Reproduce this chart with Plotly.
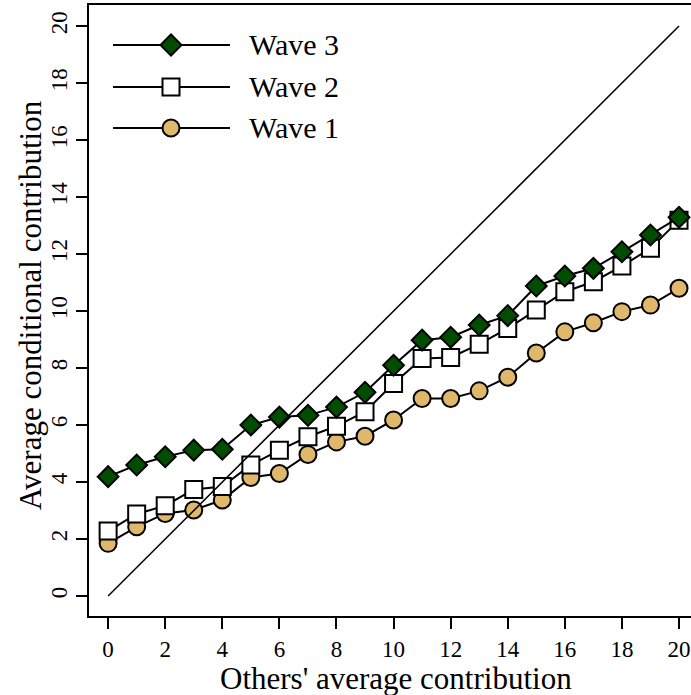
import plotly.graph_objects as go

others = list(range(0, 21))
wave1 = [1.85, 2.43, 2.90, 3.02, 3.37, 4.16, 4.30, 4.97, 5.41, 5.61, 6.18,
         6.93, 6.93, 7.20, 7.68, 8.53, 9.27, 9.59, 9.98, 10.21, 10.80]
wave2 = [2.28, 2.88, 3.17, 3.74, 3.84, 4.60, 5.12, 5.59, 5.96, 6.47, 7.46,
         8.34, 8.37, 8.84, 9.39, 10.04, 10.68, 11.03, 11.58, 12.20, 13.19]
wave3 = [4.19, 4.60, 4.89, 5.12, 5.15, 6.00, 6.28, 6.34, 6.63, 7.15, 8.10,
         8.98, 9.08, 9.51, 9.84, 10.88, 11.23, 11.50, 12.08, 12.67, 13.29]
diag = [0, 20]
tick_vals = list(range(0, 21, 2))

GREEN = "#004d00"
TAN = "#dfb86b"
FONT = "Liberation Serif, Times New Roman, serif"

W, H = 691, 695
L, R, T, B = 89, 0, 5, 79
PW, PH = W - L - R, H - T - B

fig = go.Figure()
fig.add_trace(go.Scatter(x=others, y=wave1, mode="lines+markers",
                         line=dict(color="black", width=2),
                         marker=dict(symbol="circle", size=17, color=TAN,
                                     line=dict(color="black", width=2)),
                         name="Wave 1", showlegend=False))
fig.add_trace(go.Scatter(x=others, y=wave2, mode="lines+markers",
                         line=dict(color="black", width=2),
                         marker=dict(symbol="square", size=17, color="white",
                                     line=dict(color="black", width=2)),
                         name="Wave 2", showlegend=False))
fig.add_trace(go.Scatter(x=others, y=wave3, mode="lines+markers",
                         line=dict(color="black", width=2),
                         marker=dict(symbol="diamond", size=16, color=GREEN,
                                     line=dict(color="black", width=2)),
                         name="Wave 3", showlegend=False))
fig.add_trace(go.Scatter(x=diag, y=diag, mode="lines",
                         line=dict(color="black", width=1.5),
                         showlegend=False, hoverinfo="skip"))

def px_x(p):
    return (p - L) / PW

def px_y(p):
    return (H - B - p) / PH

shapes = []
annotations = []
legend_items = [("Wave 3", 45, "diamond", GREEN),
                ("Wave 2", 87, "square", "white"),
                ("Wave 1", 128, "circle", TAN)]
for label, ypx, sym, col in legend_items:
    shapes.append(dict(type="line", xref="paper", yref="paper",
                       x0=px_x(113), x1=px_x(230), y0=px_y(ypx), y1=px_y(ypx),
                       line=dict(color="black", width=2)))
    common = dict(xref="paper", yref="paper", xsizemode="pixel", ysizemode="pixel",
                  xanchor=px_x(171), yanchor=px_y(ypx),
                  fillcolor=col, line=dict(color="black", width=2))
    if sym == "circle":
        shapes.append(dict(type="circle", x0=-8.5, x1=8.5, y0=-8.5, y1=8.5, **common))
    elif sym == "square":
        shapes.append(dict(type="rect", x0=-8.5, x1=8.5, y0=-8.5, y1=8.5, **common))
    else:
        shapes.append(dict(type="path", path="M -10.5 0 L 0 -10.5 L 10.5 0 L 0 10.5 Z", **common))
    annotations.append(dict(text=label, xref="paper", yref="paper",
                            x=px_x(247), y=px_y(ypx), xanchor="left", yanchor="middle",
                            showarrow=False, font=dict(family=FONT, size=30, color="black")))

annotations.append(dict(text="Others' average contribution", xref="paper", yref="paper",
                        x=px_x(396), y=px_y(678), xanchor="center", yanchor="middle",
                        showarrow=False, font=dict(family=FONT, size=31, color="black")))
annotations.append(dict(text="Average conditional contribution", xref="paper", yref="paper",
                        x=px_x(30), y=px_y(305), xanchor="center", yanchor="middle",
                        textangle=-90,
                        showarrow=False, font=dict(family=FONT, size=31, color="black")))

fig.update_layout(
    width=W, height=H,
    margin=dict(l=L, r=R, t=T, b=B),
    plot_bgcolor="white", paper_bgcolor="white",
    shapes=shapes, annotations=annotations,
    font=dict(family=FONT, size=23, color="black"),
)
fig.update_xaxes(range=[-0.67, 20.42], tickvals=tick_vals, ticks="outside",
                 ticklen=11, tickwidth=2, tickcolor="black",
                 showline=True, linewidth=2, linecolor="black", mirror=True,
                 showgrid=False, zeroline=False, ticklabeloverflow="allow",
                 tickfont=dict(family=FONT, size=23, color="black"))
fig.update_yaxes(range=[-0.70, 20.74], tickvals=tick_vals, ticks="outside",
                 ticklen=11, tickwidth=2, tickcolor="black",
                 showline=True, linewidth=2, linecolor="black",
                 showgrid=False, zeroline=False, tickangle=-90,
                 ticklabeloverflow="allow",
                 tickfont=dict(family=FONT, size=23, color="black"))

fig.write_html("out.html", config={"displayModeBar": False},
               post_script="document.body.style.margin='0';document.body.style.padding='0';")
